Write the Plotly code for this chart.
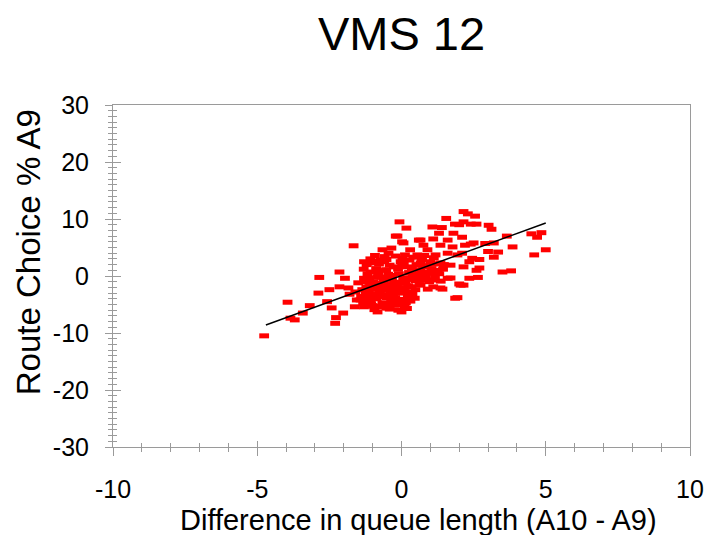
import plotly.graph_objects as go

# scatter points (queue length diff, route choice %)
queue_diff = [
    -4.76, -3.95, -3.85, -3.70, -3.42, -3.18, -2.88, -2.85, -2.50, -2.58,
    -2.42, -2.27, -2.30, -2.15, -2.15, -2.02, -1.96, -1.84, -1.80, -1.66,
    -1.62, -1.55, -1.50, -1.60, -1.30, -1.18, -0.83, -0.66, -0.20, -0.07,
    0.17, 0.02, 0.60, 1.07, 1.40, 1.55, 1.10, 1.30, 1.80, 1.85,
    2.00, 2.15, 2.30, 2.55, 2.40, 2.60, 2.10, 2.40, 3.02, 3.12,
    2.90, 3.00, 3.35, 3.65, 3.85, 2.70, 2.70, 2.65, 2.35, 2.35,
    2.00, 1.60, 1.35, 1.86, 3.50, 3.80, 4.50, 4.70, 4.85, 4.60,
    5.00, 2.20, 2.50, 3.20, 3.20, 2.45, 2.60, 2.15, 2.10, 2.15,
    2.15, 2.05, 1.70, 1.42, 1.10, 0.76, 0.66, 1.77, 1.60, 1.35,
    0.76, 0.66, 0.07, -0.14, -0.35, -0.45, -0.73, -0.97, 0.30, 0.55,
    0.90, 1.18, 1.60, 1.94, -1.07, -0.62, -0.27, -0.03, 0.20, 0.66,
    1.00, 1.35, 1.70, 0.90, 1.25, -1.30, -0.97, -1.18, -0.73, -0.38,
    -0.03, 0.30, -1.07, -0.73, -0.83, -0.49, -0.14, 0.00, 0.24, 1.94,
    -1.30, -1.42,
    # dense core
    -0.92, -0.58, -0.21, 0.12, 0.41, 0.79,
    -1.08, -0.52, 0.03, 0.28, 0.71, 1.12,
    -1.21, -0.78, -0.41, 0.08, 0.52, 0.86, 1.19, 1.47,
    -1.31, -0.88, -0.53, -0.12, 0.36, 0.61, 1.04, 1.44,
    -1.18, -0.81, -0.46, -0.09, 0.26, 0.57, 0.94, 1.31,
    -1.12, -0.69, -0.33, 0.06, 0.39, 0.82, 1.16,
    -1.28, -0.62, -0.24, 0.14, 0.49, 0.96, 1.36,
    -1.09, -0.79, -0.44, -0.16, 0.24, 0.62,
    -1.36, -0.98, -0.56, -0.19, 0.11, 0.48, 0.91,
    -1.24, -0.91, -0.61, -0.29, 0.01, 0.38,
    -1.19, -0.86, -0.51, -0.22, 0.09, 0.46,
    -1.26, -0.66, -0.36, -0.02, 0.31,
    -1.01, -0.54, -0.26, 0.11,
    -0.94, -0.41, -0.11, 0.19,
    # extra core fill
    -0.75, -0.35, 0.05, 0.45, -0.95, -0.15, 0.25, 0.65,
    -0.65, -0.30, 0.10, 0.55, -1.05, -0.45, 0.35, 0.75,
    -0.85, -0.25, 0.18, -0.60, 0.02, 0.42, -1.15, -0.40,
    -1.40, -1.22, -1.05, -0.88, -0.70, -0.52, -0.34, -0.16, 0.04, 0.22,
    -1.33, -1.14, -0.96, -0.77, -0.58, -0.40, -0.22, -0.05, 0.15,
    -0.82, -0.63, -0.44, -0.27, -0.08, 0.60, 0.83, 1.05, 1.25, 0.70,
]
route_choice = [
    -10.5, -4.6, -7.4, -7.7, -6.5, -5.2, -3.0, -0.25, -2.4, -4.5,
    -5.6, -7.3, -8.3, -1.9, 0.7, -6.5, -0.4, -2.1, -3.2, 5.3,
    -5.4, -4.2, -1.2, -2.8, 2.5, 2.3, 2.6, 4.6, 7.0, 9.5,
    8.4, 6.0, 6.3, 8.6, 8.5, 10.1, 6.5, 7.5, 7.5, 9.1,
    9.0, 11.3, 10.9, 10.5, 9.1, 9.1, 6.8, 5.6, 8.9, 8.2,
    5.7, 4.3, 4.2, 7.0, 5.1, 2.9, 1.4, -0.25, -0.4, 2.5,
    -1.4, -0.4, -2.1, -3.9, 0.7, 0.9, 7.4, 6.8, 7.6, 3.7,
    4.6, 5.4, 5.8, 5.8, 3.3, 3.1, 1.0, 1.6, 4.0, 9.5,
    -1.6, -1.6, -0.35, -2.3, -1.9, -0.7, -1.6, 5.1, 6.3, 5.4,
    5.4, 6.3, 5.8, 7.0, 4.9, 4.0, 2.8, 2.3, 4.6, 3.7,
    4.6, 3.7, 4.0, 3.7, 0.7, 1.0, 1.6, 2.5, 1.6, 2.3,
    2.5, 2.3, 1.9, 0.7, 1.0, -0.4, -1.0, -2.8, -2.1, -2.8,
    -2.1, -2.8, -4.6, -5.4, -6.3, -5.6, -5.1, -6.3, -3.7, -3.8,
    -5.4, -4.2,
    # dense core
    3.6, 3.4, 3.5, 3.7, 3.3, 3.6,
    3.0, 2.9, 3.1, 2.8, 3.0, 3.2,
    2.0, 2.1, 1.9, 2.2, 2.0, 1.8, 2.1, 2.0,
    1.2, 1.3, 1.1, 1.2, 1.4, 1.1, 1.3, 1.2,
    0.4, 0.5, 0.3, 0.4, 0.6, 0.3, 0.5, 0.4,
    -0.3, -0.2, -0.4, -0.3, -0.1, -0.3, -0.2,
    -1.0, -0.9, -1.1, -1.0, -0.8, -1.0, -0.9,
    -1.6, -1.7, -1.5, -1.6, -1.7, -1.5,
    -2.4, -2.3, -2.5, -2.4, -2.2, -2.4, -2.3,
    -3.2, -3.1, -3.3, -3.2, -3.0, -3.2,
    -3.9, -4.0, -3.8, -3.9, -4.1, -3.9,
    -4.6, -4.7, -4.5, -4.6, -4.4,
    -5.2, -5.3, -5.1, -5.2,
    -5.9, -5.8, -6.0, -5.7,
    # extra core fill
    -2.8, -2.0, -1.3, 0.0, -3.6, -4.4, -0.6, 0.9,
    -4.9, -3.5, -2.7, -0.7, -2.0, -5.5, -1.9, 1.6,
    0.8, -1.3, -4.3, 2.5, 1.7, -0.5, -1.9, 0.1,
    -3.6, -2.0, -4.9, -1.3, -3.4, -5.6, -2.7, -4.3, -1.1, -3.5,
    -4.8, -2.7, -5.3, -3.6, -1.8, -5.0, -3.8, -2.6, -4.7,
    -0.2, -1.4, -0.6, -2.0, -1.2, -0.1, 0.2, -0.7, 0.6, 2.9,
]

# fitted trend line end points
trend_x = [-4.7, 5.0]
trend_y = [-8.6, 9.3]

# tick labels (plain hyphen minus, as in the reference)
x_ticks = [-10, -5, 0, 5, 10]
x_labels = ['-10', '-5', '0', '5', '10']
y_ticks = [-30, -20, -10, 0, 10, 20, 30]
y_labels = ['-30', '-20', '-10', '0', '10', '20', '30']

fig = go.Figure()

fig.add_trace(go.Scatter(
    x=queue_diff, y=route_choice, mode='markers',
    marker=dict(symbol='line-ew', size=7, color='#ff0000',
                line=dict(color='#ff0000', width=5)),
    showlegend=False, hoverinfo='x+y'
))

fig.add_trace(go.Scatter(
    x=trend_x, y=trend_y, mode='lines',
    line=dict(color='black', width=1.5),
    xaxis='x2', yaxis='y2', showlegend=False
))

fnt = 'Liberation Sans, Arial, sans-serif'
axis_font = dict(family=fnt, size=25, color='black')
gray = '#9a9a9a'

fig.update_layout(
    width=707, height=535,
    margin=dict(l=113, r=17, t=105, b=88),
    paper_bgcolor='white', plot_bgcolor='white',
    title=dict(text='VMS 12', x=0.5, xref='paper', xanchor='center',
               y=0.938, yref='container', yanchor='middle',
               font=dict(family=fnt, size=47, color='black')),
    xaxis=dict(range=[-10, 10], tickvals=x_ticks, ticktext=x_labels,
               ticks='outside', ticklen=8, automargin=False,
               tickcolor=gray, tickwidth=1, showline=True, linecolor=gray, mirror=True,
               showgrid=False, zeroline=False, tickfont=axis_font, ticklabelstandoff=12,
               minor=dict(tick0=0, dtick=1, ticks='outside', ticklen=4, tickcolor=gray)),
    yaxis=dict(range=[-30, 30], tickvals=y_ticks, ticktext=y_labels,
               ticks='outside', ticklen=7, automargin=False,
               tickcolor=gray, tickwidth=1, showline=True, linecolor=gray, mirror=True,
               showgrid=False, zeroline=False, tickfont=axis_font, ticklabelstandoff=11,
               minor=dict(tick0=0, dtick=1, ticks='outside', ticklen=4, tickcolor=gray)),
    # overlaid copies give the ticks that cross the axis line
    xaxis2=dict(overlaying='x', matches='x', anchor='y2', side='bottom', automargin=False,
                tickvals=x_ticks, ticks='inside', ticklen=6, tickcolor=gray,
                showticklabels=False, showline=False, showgrid=False, zeroline=False,
                minor=dict(tick0=0, dtick=1, ticks='inside', ticklen=4, tickcolor=gray)),
    yaxis2=dict(overlaying='y', matches='y', anchor='x2', side='left', automargin=False,
                tickvals=y_ticks, ticks='inside', ticklen=8, tickcolor=gray,
                showticklabels=False, showline=False, showgrid=False, zeroline=False,
                minor=dict(tick0=0, dtick=1, ticks='inside', ticklen=4, tickcolor=gray)),
    annotations=[
        dict(text='Difference in queue length (A10 - A9)', xref='paper', yref='paper',
             x=0.53, y=-0.213, xanchor='center', yanchor='middle', showarrow=False,
             font=dict(family=fnt, size=29, color='black')),
        dict(text='Route Choice % A9', xref='paper', yref='paper', textangle=-90,
             x=-0.147, y=0.57, xanchor='center', yanchor='middle', showarrow=False,
             font=dict(family=fnt, size=33, color='black')),
    ],
)

# drop the browser's default 8px body margin so the figure sits at the window corner
fig.write_html("out.html", config={'displayModeBar': False},
               post_script="document.body.style.margin='0';document.body.style.overflow='hidden';")
